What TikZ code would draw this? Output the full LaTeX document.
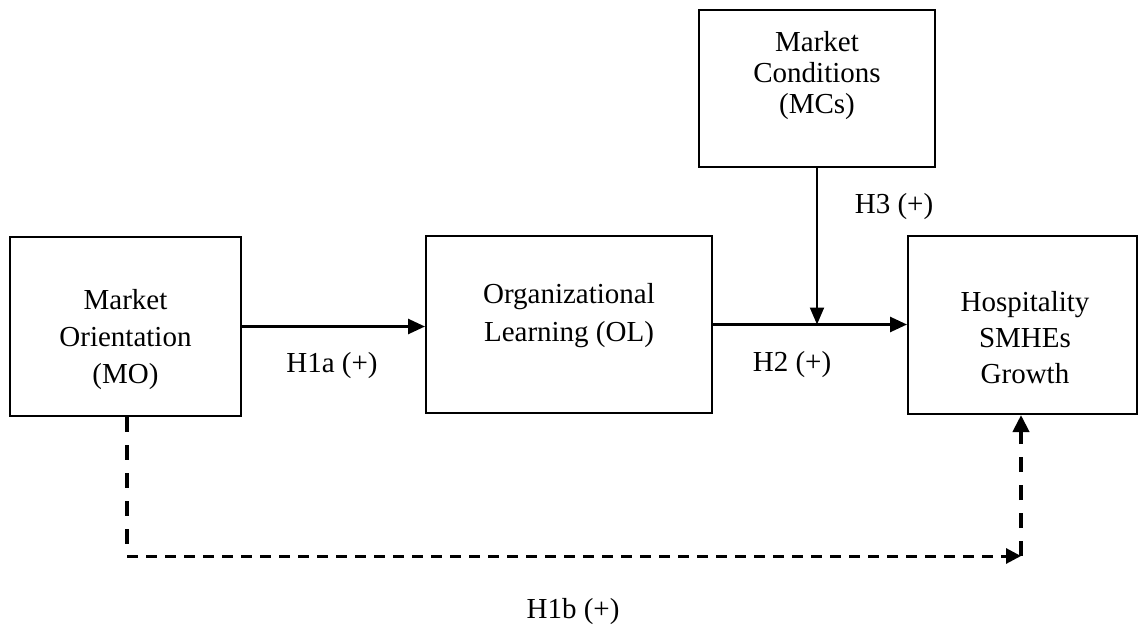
\documentclass[tikz,border=0pt]{standalone}
\usepackage{fontspec}
\setmainfont{Liberation Serif}
\usetikzlibrary{arrows.meta}
\begin{document}
\begin{tikzpicture}[x=1pt,y=-1pt,
  box/.style={draw,line width=2pt,inner sep=0pt},
  txt/.style={align=center,inner sep=0pt},
  lab/.style={font=\fontsize{29}{35}\selectfont,inner sep=0pt},
  solidarrow/.style={line width=2.6pt,-{Triangle[length=17pt,width=15pt]}},
  thinarrow/.style={line width=2pt,-{Triangle[length=17pt,width=14pt]}},
  dashv/.style={line width=4pt,dash pattern=on 15pt off 13pt},
  dashh/.style={line width=3pt,dash pattern=on 11pt off 8pt},
]
\useasboundingbox (0,0) rectangle (1138,632);
% boxes
\node[box,minimum width=231pt,minimum height=179pt] (mo) at (125.5,326.5) {};
\node[box,minimum width=286pt,minimum height=177pt] (ol) at (569,324.5) {};
\node[box,minimum width=236pt,minimum height=157pt] (mc) at (817,88.5) {};
\node[box,minimum width=229pt,minimum height=178pt] (gr) at (1022.5,325) {};
% box texts
\node[txt,font=\fontsize{29}{37}\selectfont] (motext) at (125.5,340) {Market\\Orientation\\(MO)};
\node[txt,font=\fontsize{29}{38}\selectfont] (oltext) at (569,316) {Organizational\\Learning (OL)};
\node[txt,font=\fontsize{29}{31}\selectfont] (mctext) at (817,76) {Market\\Conditions\\(MCs)};
\node[txt,font=\fontsize{29}{36}\selectfont] (grtext) at (1025,338) {Hospitality\\SMHEs\\Growth};
% labels
\node[lab] (h1a) at (332,366) {H1a (+)};
\node[lab] (h2) at (792,365) {H2 (+)};
\node[lab] (h3) at (894,207) {H3 (+)};
\node[lab] (h1b) at (573,612) {H1b (+)};
% connectors
\draw[solidarrow] (mo.east) -- (mo.east -| ol.west);
\draw[solidarrow] (ol.east) -- (ol.east -| gr.west);
\draw[thinarrow] (mc.south) -- (mc.south |- ol.east);
\coordinate (c1) at (127,556);
\coordinate (c2) at (1021,556);
\draw[dashv] (mo.south -| c1) -- (c1);
\draw[dashh,-{Triangle[length=15pt,width=15pt]}] (c1) -- (c2);
\draw[dashv,-{Triangle[length=17pt,width=16pt]}] (c2) -- (c2 |- gr.south);
\end{tikzpicture}
\end{document}
